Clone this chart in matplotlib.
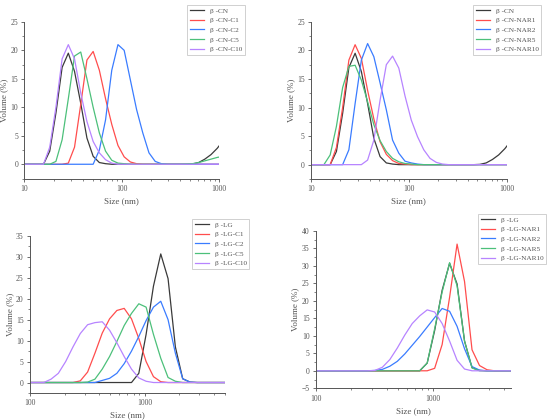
import matplotlib
matplotlib.use('Agg')
import matplotlib.pyplot as plt
from matplotlib.ticker import AutoMinorLocator, LogLocator, NullFormatter

plt.rcParams['font.family'] = ['Liberation Serif', 'DejaVu Serif']

# size bins (nm) of the top panels
cn_size = [10.10, 11.70, 13.54, 15.69, 18.17, 21.04, 24.36, 28.21, 32.67, 37.84,
           43.82, 50.75, 58.77, 68.06, 78.82, 91.28, 105.7, 122.4, 141.8, 164.2,
           190.1, 220.2, 255.0, 295.3, 342.0, 396.1, 458.7, 531.2, 615.1, 712.4,
           825.0, 955.4, 1106]

cn = [0, 0, 0, 0, 2.3, 9, 17, 19.5, 16.3, 10.7, 4.6, 1.4, 0.3, 0.1, 0, 0,
      0, 0, 0, 0, 0, 0, 0, 0, 0, 0, 0, 0.05, 0.3, 0.9, 1.7, 2.8, 4.2]
cn_c1 = [0, 0, 0, 0, 0, 0, 0, 0.2, 3, 10.5, 18.3, 19.8, 16.5, 11.5, 7, 3.3,
         1.3, 0.4, 0.1, 0, 0, 0, 0, 0, 0, 0, 0, 0, 0, 0, 0, 0, 0]
cn_c2 = [0, 0, 0, 0, 0, 0, 0, 0, 0, 0, 0, 0, 2.5, 7.8, 16.5, 21, 20, 14.8,
         9.6, 5.5, 2, 0.5, 0.1, 0, 0, 0, 0, 0, 0, 0, 0, 0, 0]
cn_c5 = [0, 0, 0, 0, 0, 0.5, 4.3, 11.5, 19, 19.7, 15, 10, 5.5, 2.3, 0.7, 0.2,
         0.1, 0, 0, 0, 0, 0, 0, 0, 0, 0, 0.05, 0.1, 0.3, 0.6, 0.9, 1.2, 1.4]
cn_c10 = [0, 0, 0, 0, 3, 10, 18.5, 21, 18.5, 12.5, 7.5, 4, 2, 0.8, 0.2, 0,
          0, 0, 0, 0, 0, 0, 0, 0, 0, 0, 0, 0, 0, 0, 0, 0, 0]

cn_nar1 = [0, 0, 0, 0, 3, 10, 18.3, 21, 18.6, 13, 8, 4, 1.8, 0.7, 0.2, 0.1,
           0, 0, 0, 0, 0, 0, 0, 0, 0, 0, 0, 0, 0, 0, 0, 0, 0]
cn_nar2 = [0, 0, 0, 0, 0, 0, 2.6, 10.7, 18.3, 21.2, 18.9, 14.3, 9.6, 4.3, 2,
           0.6, 0.3, 0.1, 0, 0, 0, 0, 0, 0, 0, 0, 0, 0, 0, 0, 0, 0, 0]
cn_nar5 = [0, 0, 0, 1.7, 6.7, 13.5, 17.2, 17.4, 14.8, 11, 7, 4.2, 2.3, 1.1,
           0.5, 0.2, 0.1, 0, 0, 0, 0, 0, 0, 0, 0, 0, 0, 0, 0, 0, 0, 0, 0]
cn_nar10 = [0, 0, 0, 0, 0, 0, 0, 0, 0, 0.8, 4.3, 11.3, 17.5, 19, 16.9, 12,
            7.8, 4.9, 2.6, 1.1, 0.4, 0.1, 0, 0, 0, 0, 0, 0, 0, 0, 0, 0, 0]

# size bins (nm) of the bottom panels
lg_size = [98.2, 113.8, 131.8, 152.6, 176.7, 204.6, 237.0, 274.5, 317.8, 368.1,
           426.3, 493.7, 571.7, 662.1, 766.8, 888.0, 1028, 1191, 1379, 1597,
           1849, 2142, 2481, 2873, 3327, 3853, 4462, 5168]

lg = [0, 0, 0, 0, 0, 0, 0, 0, 0, 0, 0, 0, 0, 0, 0, 2.2, 11.5, 23, 30.7,
      24.8, 8.5, 0.9, 0.1, 0, 0, 0, 0, 0]
lg_c1 = [0, 0, 0, 0, 0, 0, 0, 0.4, 2.5, 7, 11.8, 15.2, 17.2, 17.7, 15.2,
         10.5, 5, 1.4, 0.2, 0, 0, 0, 0, 0, 0, 0, 0, 0]
lg_c2 = [0, 0, 0, 0, 0, 0, 0, 0, 0, 0, 0.5, 1, 2.2, 4.5, 7.5, 11, 14.8, 18,
         19.4, 15, 7, 0.9, 0.1, 0, 0, 0, 0, 0]
lg_c5 = [0, 0, 0, 0, 0, 0, 0, 0, 0.1, 0.8, 3.2, 6.2, 9.8, 13.6, 16.5, 18.8,
         18, 11.5, 5.8, 1.2, 0.3, 0, 0, 0, 0, 0, 0, 0]
lg_c10 = [0, 0, 0, 0.8, 2.2, 5, 8.5, 11.7, 13.8, 14.3, 14.5, 12.5, 9.5, 6.2,
          3.2, 1.1, 0.3, 0, 0, 0, 0, 0, 0, 0, 0, 0, 0, 0]

lg_nar1 = [0, 0, 0, 0, 0, 0, 0, 0, 0, 0, 0, 0, 0, 0, 0, 0, 0.7, 7.5, 21, 36.2,
           25.5, 6, 1.5, 0.3, 0, 0, 0, 0]
lg_nar2 = [0, 0, 0, 0, 0, 0, 0, 0, 0.1, 0.4, 1.3, 2.7, 4.8, 7.3, 9.8, 12.5,
           15.2, 17.8, 17, 12.7, 6.3, 1.2, 0.2, 0, 0, 0, 0, 0]
lg_nar5 = [0, 0, 0, 0, 0, 0, 0, 0, 0, 0, 0, 0, 0, 0, 0, 2.2, 12, 22.5, 30.9,
           24.3, 8.5, 0.8, 0, 0, 0, 0, 0, 0]
lg_nar10 = [0, 0, 0, 0, 0, 0, 0, 0, 0.1, 1, 3.2, 6.5, 10.2, 13.5, 15.7, 17.4,
            16.8, 13.5, 8.5, 3, 0.5, 0, 0, 0, 0, 0, 0, 0]

labels_cn_c = ['β -CN', 'β -CN-C1', 'β -CN-C2', 'β -CN-C5', 'β -CN-C10']
labels_cn_nar = ['β -CN', 'β -CN-NAR1', 'β -CN-NAR2', 'β -CN-NAR5', 'β -CN-NAR10']
labels_lg_c = ['β -LG', 'β -LG-C1', 'β -LG-C2', 'β -LG-C5', 'β -LG-C10']
labels_lg_nar = ['β -LG', 'β -LG-NAR1', 'β -LG-NAR2', 'β -LG-NAR5', 'β -LG-NAR10']

colors = ['#3a3a3a', '#ff4d4d', '#3a7cff', '#4cc07a', '#b784ff']
text_color = '#555555'


def draw_panel(fig, rect, x, series, labels, xlim, xticks, ylim, yticks, legend_xy):
    ax = fig.add_axes(rect)
    for y, lab, c in zip(series, labels, colors):
        ax.plot(x, y, color=c, lw=0.9, label=lab)
    ax.set_xscale('log')
    ax.set_xlim(*xlim)
    ax.set_ylim(*ylim)
    ax.set_xticks(xticks)
    ax.set_xticklabels([str(t) for t in xticks])
    ax.xaxis.set_minor_locator(LogLocator(base=10, subs=range(2, 10)))
    ax.xaxis.set_minor_formatter(NullFormatter())
    ax.set_yticks(yticks)
    ax.yaxis.set_minor_locator(AutoMinorLocator(2))
    for s in ['top', 'right']:
        ax.spines[s].set_visible(False)
    for s in ['left', 'bottom']:
        ax.spines[s].set_color(text_color)
        ax.spines[s].set_linewidth(0.7)
    ax.tick_params(which='major', length=2.5, width=0.6, colors=text_color,
                   labelsize=5.5, pad=2)
    ax.tick_params(which='minor', length=1.5, width=0.5, colors=text_color)
    ax.set_xlabel('Size (nm)', fontsize=6.5, color=text_color, labelpad=3)
    ax.set_ylabel('Volume (%)', fontsize=6.5, color=text_color, labelpad=1.5)
    leg = ax.legend(loc='upper left', bbox_to_anchor=legend_xy,
                    bbox_transform=fig.transFigure, fontsize=5.2, frameon=True,
                    fancybox=False, handlelength=2.0, handletextpad=0.8,
                    labelspacing=0.5, borderpad=0.35, borderaxespad=0)
    leg.get_frame().set_edgecolor('#bbbbbb')
    leg.get_frame().set_linewidth(0.6)
    for t in leg.get_texts():
        t.set_color(text_color)
    return ax


fig = plt.figure(figsize=(5.5, 4.2), dpi=100)

draw_panel(fig, [0.0445, 0.575, 0.354, 0.373], cn_size,
           [cn, cn_c1, cn_c2, cn_c5, cn_c10], labels_cn_c,
           (10, 1000), [10, 100, 1000], (-2.5, 25), [0, 5, 10, 15, 20, 25],
           (187 / 550, 1 - 5 / 420))

draw_panel(fig, [0.5655, 0.574, 0.356, 0.374], cn_size,
           [cn, cn_nar1, cn_nar2, cn_nar5, cn_nar10], labels_cn_nar,
           (10, 1000), [10, 100, 1000], (-2.5, 25), [0, 5, 10, 15, 20, 25],
           (473 / 550, 1 - 5 / 420))

draw_panel(fig, [0.0545, 0.0643, 0.3545, 0.374], lg_size,
           [lg, lg_c1, lg_c2, lg_c5, lg_c10], labels_lg_c,
           (100, 5000), [100, 1000], (-2.5, 35), [0, 5, 10, 15, 20, 25, 30, 35],
           (192 / 550, 1 - 219 / 420))

draw_panel(fig, [0.5745, 0.0755, 0.3545, 0.375], lg_size,
           [lg, lg_nar1, lg_nar2, lg_nar5, lg_nar10], labels_lg_nar,
           (100, 4600), [100, 1000], (-5, 40), [-5, 0, 5, 10, 15, 20, 25, 30, 35, 40],
           (478 / 550, 1 - 214 / 420))

fig.savefig('out.png', dpi=100)
